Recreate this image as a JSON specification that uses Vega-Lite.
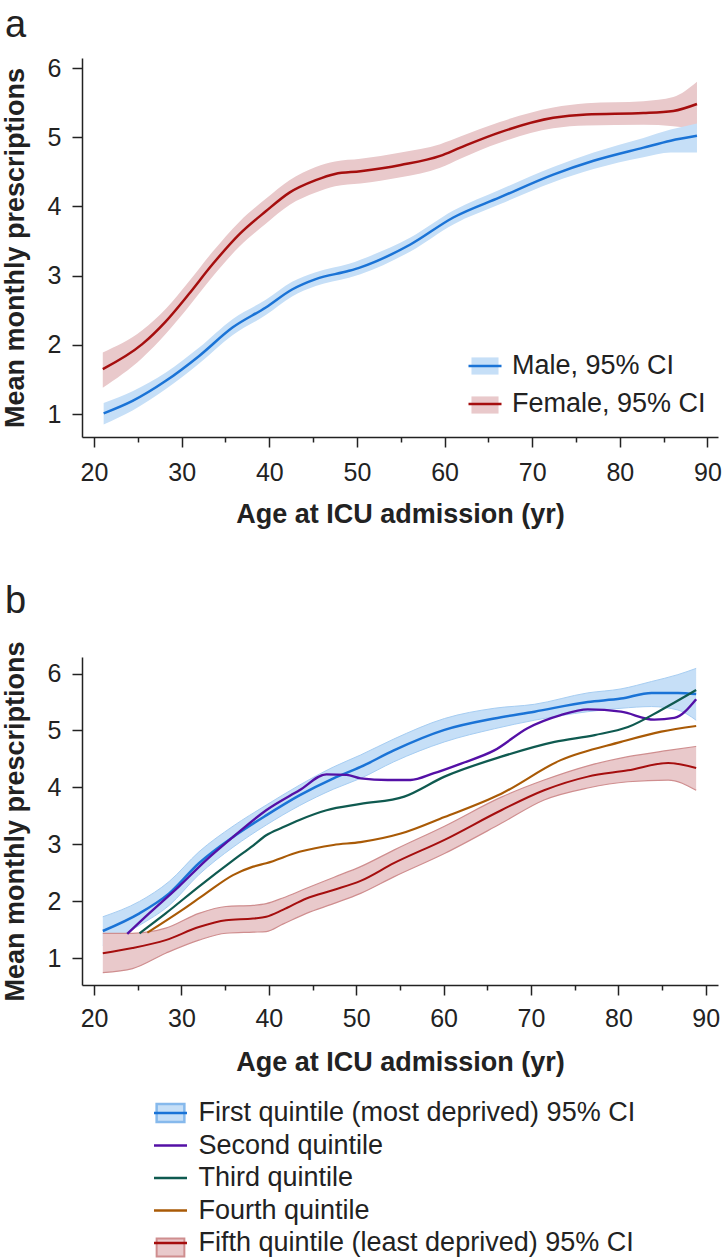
{
  "$schema": "https://vega.github.io/schema/vega-lite/v6.json",
  "background": "white",
  "padding": {"left": 1, "top": 7, "right": 0, "bottom": 0},
  "spacing": 55,
  "resolve": {
    "scale": {"fill": "independent", "stroke": "independent", "strokeWidth": "independent", "x": "independent", "y": "independent"},
    "legend": {"fill": "independent", "stroke": "independent"}
  },
  "config": {
    "font": "Liberation Sans",
    "view": {"stroke": null},
    "axis": {
      "grid": false,
      "domainColor": "#222",
      "domainWidth": 1.5,
      "tickColor": "#222",
      "tickWidth": 1.5,
      "labelColor": "#222",
      "labelFontSize": 25,
      "titleColor": "#222",
      "titleFontSize": 27,
      "titleFontWeight": "bold"
    },
    "legend": {
      "labelColor": "#222",
      "labelFontSize": 27,
      "labelLimit": 700,
      "padding": 0
    },
    "title": {
      "fontSize": 38,
      "fontWeight": "normal",
      "color": "#222",
      "anchor": "start",
      "frame": "group",
      "baseline": "alphabetic"
    }
  },
  "datasets": {
    "a": [
      {"group": "Female, 95% CI", "age": 21.0, "value": 1.65, "lo": 1.38, "hi": 1.89},
      {"group": "Female, 95% CI", "age": 25.5, "value": 2.01, "lo": 1.81, "hi": 2.21},
      {"group": "Female, 95% CI", "age": 28.2, "value": 2.34, "lo": 2.16, "hi": 2.52},
      {"group": "Female, 95% CI", "age": 30.8, "value": 2.73, "lo": 2.55, "hi": 2.91},
      {"group": "Female, 95% CI", "age": 33.5, "value": 3.16, "lo": 2.98, "hi": 3.34},
      {"group": "Female, 95% CI", "age": 36.6, "value": 3.6, "lo": 3.42, "hi": 3.78},
      {"group": "Female, 95% CI", "age": 39.6, "value": 3.93, "lo": 3.75, "hi": 4.11},
      {"group": "Female, 95% CI", "age": 42.3, "value": 4.2, "lo": 4.02, "hi": 4.38},
      {"group": "Female, 95% CI", "age": 45.3, "value": 4.38, "lo": 4.2, "hi": 4.57},
      {"group": "Female, 95% CI", "age": 47.5, "value": 4.47, "lo": 4.29, "hi": 4.65},
      {"group": "Female, 95% CI", "age": 50.4, "value": 4.51, "lo": 4.33, "hi": 4.69},
      {"group": "Female, 95% CI", "age": 55.0, "value": 4.6, "lo": 4.42, "hi": 4.78},
      {"group": "Female, 95% CI", "age": 59.5, "value": 4.73, "lo": 4.56, "hi": 4.9},
      {"group": "Female, 95% CI", "age": 61.8, "value": 4.85, "lo": 4.69, "hi": 5.01},
      {"group": "Female, 95% CI", "age": 66.3, "value": 5.07, "lo": 4.92, "hi": 5.22},
      {"group": "Female, 95% CI", "age": 72.4, "value": 5.28, "lo": 5.13, "hi": 5.43},
      {"group": "Female, 95% CI", "age": 76.2, "value": 5.33, "lo": 5.17, "hi": 5.49},
      {"group": "Female, 95% CI", "age": 82.7, "value": 5.35, "lo": 5.18, "hi": 5.52},
      {"group": "Female, 95% CI", "age": 86.1, "value": 5.38, "lo": 5.16, "hi": 5.58},
      {"group": "Female, 95% CI", "age": 88.8, "value": 5.48, "lo": 5.12, "hi": 5.8},
      {"group": "Male, 95% CI", "age": 21.1, "value": 1.01, "lo": 0.85, "hi": 1.16},
      {"group": "Male, 95% CI", "age": 24.4, "value": 1.19, "lo": 1.05, "hi": 1.33},
      {"group": "Male, 95% CI", "age": 28.2, "value": 1.48, "lo": 1.36, "hi": 1.6},
      {"group": "Male, 95% CI", "age": 32.0, "value": 1.84, "lo": 1.73, "hi": 1.96},
      {"group": "Male, 95% CI", "age": 35.8, "value": 2.25, "lo": 2.14, "hi": 2.37},
      {"group": "Male, 95% CI", "age": 39.6, "value": 2.54, "lo": 2.43, "hi": 2.65},
      {"group": "Male, 95% CI", "age": 42.6, "value": 2.8, "lo": 2.7, "hi": 2.91},
      {"group": "Male, 95% CI", "age": 45.3, "value": 2.95, "lo": 2.85, "hi": 3.05},
      {"group": "Male, 95% CI", "age": 49.1, "value": 3.07, "lo": 2.97, "hi": 3.17},
      {"group": "Male, 95% CI", "age": 50.4, "value": 3.12, "lo": 3.02, "hi": 3.23},
      {"group": "Male, 95% CI", "age": 56.1, "value": 3.45, "lo": 3.35, "hi": 3.55},
      {"group": "Male, 95% CI", "age": 61.0, "value": 3.84, "lo": 3.74, "hi": 3.94},
      {"group": "Male, 95% CI", "age": 66.3, "value": 4.13, "lo": 4.03, "hi": 4.24},
      {"group": "Male, 95% CI", "age": 72.4, "value": 4.46, "lo": 4.35, "hi": 4.57},
      {"group": "Male, 95% CI", "age": 77.0, "value": 4.66, "lo": 4.54, "hi": 4.78},
      {"group": "Male, 95% CI", "age": 82.7, "value": 4.85, "lo": 4.71, "hi": 4.99},
      {"group": "Male, 95% CI", "age": 85.8, "value": 4.95, "lo": 4.78, "hi": 5.11},
      {"group": "Male, 95% CI", "age": 88.8, "value": 5.02, "lo": 4.78, "hi": 5.2}
    ],
    "b": [
      {"group": "First quintile (most deprived) 95% CI", "age": 21.0, "value": 1.48, "lo": 1.23, "hi": 1.73},
      {"group": "First quintile (most deprived) 95% CI", "age": 25.2, "value": 1.79, "lo": 1.58, "hi": 2.0},
      {"group": "First quintile (most deprived) 95% CI", "age": 28.6, "value": 2.14, "lo": 1.93, "hi": 2.35},
      {"group": "First quintile (most deprived) 95% CI", "age": 32.0, "value": 2.67, "lo": 2.47, "hi": 2.87},
      {"group": "First quintile (most deprived) 95% CI", "age": 35.9, "value": 3.13, "lo": 2.95, "hi": 3.32},
      {"group": "First quintile (most deprived) 95% CI", "age": 39.7, "value": 3.51, "lo": 3.34, "hi": 3.69},
      {"group": "First quintile (most deprived) 95% CI", "age": 43.5, "value": 3.86, "lo": 3.68, "hi": 4.04},
      {"group": "First quintile (most deprived) 95% CI", "age": 47.4, "value": 4.16, "lo": 3.97, "hi": 4.36},
      {"group": "First quintile (most deprived) 95% CI", "age": 50.5, "value": 4.36, "lo": 4.16, "hi": 4.57},
      {"group": "First quintile (most deprived) 95% CI", "age": 54.3, "value": 4.65, "lo": 4.45, "hi": 4.85},
      {"group": "First quintile (most deprived) 95% CI", "age": 60.1, "value": 5.01, "lo": 4.8, "hi": 5.21},
      {"group": "First quintile (most deprived) 95% CI", "age": 65.8, "value": 5.21, "lo": 5.03, "hi": 5.39},
      {"group": "First quintile (most deprived) 95% CI", "age": 70.4, "value": 5.33, "lo": 5.18, "hi": 5.46},
      {"group": "First quintile (most deprived) 95% CI", "age": 76.5, "value": 5.5, "lo": 5.33, "hi": 5.66},
      {"group": "First quintile (most deprived) 95% CI", "age": 80.3, "value": 5.56, "lo": 5.39, "hi": 5.73},
      {"group": "First quintile (most deprived) 95% CI", "age": 83.8, "value": 5.66, "lo": 5.42, "hi": 5.86},
      {"group": "First quintile (most deprived) 95% CI", "age": 86.8, "value": 5.66, "lo": 5.36, "hi": 5.98},
      {"group": "First quintile (most deprived) 95% CI", "age": 88.9, "value": 5.64, "lo": 5.18, "hi": 6.09},
      {"group": "Second quintile", "age": 23.8, "value": 1.43},
      {"group": "Second quintile", "age": 26.3, "value": 1.79},
      {"group": "Second quintile", "age": 29.7, "value": 2.26},
      {"group": "Second quintile", "age": 32.8, "value": 2.72},
      {"group": "Second quintile", "age": 35.9, "value": 3.13},
      {"group": "Second quintile", "age": 39.7, "value": 3.6},
      {"group": "Second quintile", "age": 43.5, "value": 3.95},
      {"group": "Second quintile", "age": 46.6, "value": 4.23},
      {"group": "Second quintile", "age": 48.9, "value": 4.22},
      {"group": "Second quintile", "age": 50.5, "value": 4.16},
      {"group": "Second quintile", "age": 53.6, "value": 4.13},
      {"group": "Second quintile", "age": 56.2, "value": 4.13},
      {"group": "Second quintile", "age": 58.9, "value": 4.25},
      {"group": "Second quintile", "age": 62.0, "value": 4.42},
      {"group": "Second quintile", "age": 65.8, "value": 4.65},
      {"group": "Second quintile", "age": 69.6, "value": 5.04},
      {"group": "Second quintile", "age": 73.4, "value": 5.27},
      {"group": "Second quintile", "age": 76.5, "value": 5.37},
      {"group": "Second quintile", "age": 80.3, "value": 5.33},
      {"group": "Second quintile", "age": 84.1, "value": 5.19},
      {"group": "Second quintile", "age": 86.4, "value": 5.22},
      {"group": "Second quintile", "age": 88.9, "value": 5.55},
      {"group": "Third quintile", "age": 25.2, "value": 1.44},
      {"group": "Third quintile", "age": 28.2, "value": 1.79},
      {"group": "Third quintile", "age": 32.0, "value": 2.26},
      {"group": "Third quintile", "age": 35.9, "value": 2.72},
      {"group": "Third quintile", "age": 38.2, "value": 2.98},
      {"group": "Third quintile", "age": 39.7, "value": 3.16},
      {"group": "Third quintile", "age": 41.6, "value": 3.3},
      {"group": "Third quintile", "age": 43.5, "value": 3.43},
      {"group": "Third quintile", "age": 46.6, "value": 3.6},
      {"group": "Third quintile", "age": 50.5, "value": 3.71},
      {"group": "Third quintile", "age": 55.5, "value": 3.84},
      {"group": "Third quintile", "age": 60.1, "value": 4.19},
      {"group": "Third quintile", "age": 66.6, "value": 4.54},
      {"group": "Third quintile", "age": 72.7, "value": 4.8},
      {"group": "Third quintile", "age": 77.3, "value": 4.92},
      {"group": "Third quintile", "age": 81.1, "value": 5.06},
      {"group": "Third quintile", "age": 84.9, "value": 5.36},
      {"group": "Third quintile", "age": 88.9, "value": 5.71},
      {"group": "Fourth quintile", "age": 26.1, "value": 1.45},
      {"group": "Fourth quintile", "age": 30.1, "value": 1.85},
      {"group": "Fourth quintile", "age": 32.8, "value": 2.14},
      {"group": "Fourth quintile", "age": 35.9, "value": 2.46},
      {"group": "Fourth quintile", "age": 38.2, "value": 2.61},
      {"group": "Fourth quintile", "age": 39.7, "value": 2.67},
      {"group": "Fourth quintile", "age": 43.5, "value": 2.87},
      {"group": "Fourth quintile", "age": 47.4, "value": 2.99},
      {"group": "Fourth quintile", "age": 50.5, "value": 3.04},
      {"group": "Fourth quintile", "age": 55.1, "value": 3.19},
      {"group": "Fourth quintile", "age": 60.1, "value": 3.48},
      {"group": "Fourth quintile", "age": 66.6, "value": 3.89},
      {"group": "Fourth quintile", "age": 73.4, "value": 4.48},
      {"group": "Fourth quintile", "age": 80.3, "value": 4.8},
      {"group": "Fourth quintile", "age": 84.9, "value": 4.98},
      {"group": "Fourth quintile", "age": 88.9, "value": 5.08},
      {"group": "Fifth quintile (least deprived) 95% CI", "age": 21.0, "value": 1.09, "lo": 0.75, "hi": 1.44},
      {"group": "Fifth quintile (least deprived) 95% CI", "age": 24.4, "value": 1.18, "lo": 0.82, "hi": 1.44},
      {"group": "Fifth quintile (least deprived) 95% CI", "age": 28.2, "value": 1.32, "lo": 1.09, "hi": 1.53},
      {"group": "Fifth quintile (least deprived) 95% CI", "age": 32.0, "value": 1.55, "lo": 1.32, "hi": 1.79},
      {"group": "Fifth quintile (least deprived) 95% CI", "age": 35.1, "value": 1.67, "lo": 1.44, "hi": 1.91},
      {"group": "Fifth quintile (least deprived) 95% CI", "age": 38.2, "value": 1.7, "lo": 1.46, "hi": 1.93},
      {"group": "Fifth quintile (least deprived) 95% CI", "age": 39.7, "value": 1.73, "lo": 1.47, "hi": 1.96},
      {"group": "Fifth quintile (least deprived) 95% CI", "age": 41.6, "value": 1.85, "lo": 1.6, "hi": 2.06},
      {"group": "Fifth quintile (least deprived) 95% CI", "age": 44.3, "value": 2.05, "lo": 1.79, "hi": 2.23},
      {"group": "Fifth quintile (least deprived) 95% CI", "age": 47.4, "value": 2.2, "lo": 1.96, "hi": 2.42},
      {"group": "Fifth quintile (least deprived) 95% CI", "age": 50.5, "value": 2.36, "lo": 2.14, "hi": 2.61},
      {"group": "Fifth quintile (least deprived) 95% CI", "age": 54.3, "value": 2.67, "lo": 2.43, "hi": 2.9},
      {"group": "Fifth quintile (least deprived) 95% CI", "age": 60.1, "value": 3.08, "lo": 2.84, "hi": 3.32},
      {"group": "Fifth quintile (least deprived) 95% CI", "age": 66.6, "value": 3.6, "lo": 3.37, "hi": 3.83},
      {"group": "Fifth quintile (least deprived) 95% CI", "age": 71.5, "value": 3.95, "lo": 3.78, "hi": 4.13},
      {"group": "Fifth quintile (least deprived) 95% CI", "age": 76.5, "value": 4.19, "lo": 3.99, "hi": 4.38},
      {"group": "Fifth quintile (least deprived) 95% CI", "age": 81.1, "value": 4.3, "lo": 4.1, "hi": 4.54},
      {"group": "Fifth quintile (least deprived) 95% CI", "age": 85.7, "value": 4.43, "lo": 4.13, "hi": 4.65},
      {"group": "Fifth quintile (least deprived) 95% CI", "age": 88.9, "value": 4.34, "lo": 3.95, "hi": 4.72}
    ]
  },
  "vconcat": [
    {
      "width": 636,
      "height": 379,
      "title": {"text": "a", "dx": -77, "offset": 11},
      "data": {"name": "a"},
      "encoding": {
        "x": {
          "field": "age",
          "type": "quantitative",
          "scale": {"domain": [18.63, 91.2], "nice": false, "zero": false},
          "axis": {
            "title": "Age at ICU admission (yr)",
            "values": [20, 25, 30, 35, 40, 45, 50, 55, 60, 65, 70, 75, 80, 85, 90],
            "labelExpr": "datum.value % 10 === 0 ? datum.label : ''",
            "tickSize": {"condition": {"test": "datum.value % 10 === 0", "value": 10}, "value": 5},
            "labelPadding": 13,
            "titlePadding": 16
          }
        },
        "y": {
          "field": "hi",
          "type": "quantitative",
          "scale": {"domain": [0.668, 6.145], "nice": false, "zero": false},
          "axis": {
            "title": "Mean monthly prescriptions",
            "values": [1, 2, 3, 4, 5, 6],
            "tickSize": 10,
            "labelPadding": 11,
            "titlePadding": 18
          }
        }
      },
      "layer": [
        {
          "mark": {"type": "area", "interpolate": "monotone", "opacity": 1},
          "encoding": {
            "y2": {"field": "lo"},
            "fill": {
              "field": "group",
              "type": "nominal",
              "scale": {"domain": ["Male, 95% CI", "Female, 95% CI"], "range": ["#c6dff7", "#e9c9cb"]},
              "legend": {
                "orient": "none",
                "legendX": 385,
                "legendY": 290,
                "title": null,
                "symbolType": "M-0.82,-0.52H0.82V0.52H-0.82Z",
                "symbolSize": 1089,
                "symbolStrokeWidth": 2.5,
                "symbolStrokeColor": "transparent",
                "symbolOpacity": 1,
                "labelOffset": 9,
                "labelExpr": "' '",
                "rowPadding": 7
              }
            }
          }
        },
        {
          "mark": {"type": "line", "interpolate": "monotone", "strokeWidth": 2.5},
          "encoding": {
            "y": {"field": "value", "type": "quantitative"},
            "stroke": {
              "field": "group",
              "type": "nominal",
              "sort": ["Male, 95% CI", "Female, 95% CI"],
              "scale": {"range": ["#1a73d6", "#a50e0e"]},
              "legend": {
                "orient": "none",
                "legendX": 385,
                "legendY": 290,
                "title": null,
                "symbolType": "stroke",
                "symbolSize": 1089,
                "symbolStrokeWidth": 2.5,
                "labelOffset": 9,
                "rowPadding": 7
              }
            }
          }
        }
      ]
    },
    {
      "width": 636,
      "height": 328,
      "title": {"text": "b", "dx": -77, "offset": 20},
      "data": {"name": "b"},
      "encoding": {
        "x": {
          "field": "age",
          "type": "quantitative",
          "scale": {"domain": [18.62, 91.4], "nice": false, "zero": false},
          "axis": {
            "title": "Age at ICU admission (yr)",
            "values": [20, 25, 30, 35, 40, 45, 50, 55, 60, 65, 70, 75, 80, 85, 90],
            "labelExpr": "datum.value % 10 === 0 ? datum.label : ''",
            "tickSize": {"condition": {"test": "datum.value % 10 === 0", "value": 10}, "value": 5},
            "labelPadding": 11,
            "titlePadding": 18
          }
        },
        "y": {
          "field": "hi",
          "type": "quantitative",
          "scale": {"domain": [0.532, 6.29], "nice": false, "zero": false},
          "axis": {
            "title": "Mean monthly prescriptions",
            "values": [1, 2, 3, 4, 5, 6],
            "tickSize": 10,
            "labelPadding": 11,
            "titlePadding": 18
          }
        }
      },
      "layer": [
        {
          "transform": [{"filter": "datum.group === 'First quintile (most deprived) 95% CI'"}],
          "mark": {"type": "area", "interpolate": "monotone", "opacity": 1},
          "encoding": {
            "y2": {"field": "lo"},
            "fill": {
              "field": "group",
              "type": "nominal",
              "scale": {
                "domain": ["First quintile (most deprived) 95% CI", "Second quintile", "Third quintile", "Fourth quintile", "Fifth quintile (least deprived) 95% CI"],
                "range": ["#c6dff7", "transparent", "transparent", "transparent", "#e9c9cb"]
              },
              "legend": {
                "orient": "none",
                "legendX": 70.5,
                "legendY": 438,
                "title": null,
                "symbolType": "M-0.84,-0.55H0.84V0.55H-0.84Z",
                "symbolSize": 1089,
                "symbolStrokeWidth": 2.5,
                "symbolOpacity": 1,
                "labelOffset": 10,
                "labelExpr": "' '",
                "rowPadding": 1.5,
                "encode": {
                  "symbols": {
                    "update": {
                      "stroke": {"signal": "datum.value === 'First quintile (most deprived) 95% CI' ? '#86b9ec' : datum.value === 'Fifth quintile (least deprived) 95% CI' ? '#cf8e8f' : 'transparent'"},
                      "strokeWidth": {"value": 1.5}
                    }
                  }
                }
              }
            }
          }
        },
        {
          "transform": [
            {"filter": "datum.group === 'First quintile (most deprived) 95% CI'"},
            {"fold": ["hi", "lo"], "as": ["edge", "bound"]}
          ],
          "mark": {"type": "line", "interpolate": "monotone", "stroke": "#a6cdf2", "strokeWidth": 1},
          "encoding": {
            "y": {"field": "bound", "type": "quantitative"},
            "detail": {"field": "edge", "type": "nominal"}
          }
        },
        {
          "transform": [{"filter": "datum.group === 'Fifth quintile (least deprived) 95% CI'"}],
          "mark": {"type": "area", "interpolate": "monotone", "opacity": 1},
          "encoding": {
            "y2": {"field": "lo"},
            "fill": {
              "field": "group",
              "type": "nominal",
              "scale": {
                "domain": ["First quintile (most deprived) 95% CI", "Second quintile", "Third quintile", "Fourth quintile", "Fifth quintile (least deprived) 95% CI"],
                "range": ["#c6dff7", "transparent", "transparent", "transparent", "#e9c9cb"]
              }
            }
          }
        },
        {
          "transform": [
            {"filter": "datum.group === 'Fifth quintile (least deprived) 95% CI'"},
            {"fold": ["hi", "lo"], "as": ["edge", "bound"]}
          ],
          "mark": {"type": "line", "interpolate": "monotone", "stroke": "#cf8e8f", "strokeWidth": 1.2},
          "encoding": {
            "y": {"field": "bound", "type": "quantitative"},
            "detail": {"field": "edge", "type": "nominal"}
          }
        },
        {
          "mark": {"type": "line", "interpolate": "monotone"},
          "encoding": {
            "y": {"field": "value", "type": "quantitative"},
            "strokeWidth": {
              "field": "group",
              "type": "ordinal",
              "scale": {
                "domain": ["First quintile (most deprived) 95% CI", "Second quintile", "Third quintile", "Fourth quintile", "Fifth quintile (least deprived) 95% CI"],
                "range": [2.5, 2, 2, 2, 2.5]
              },
              "legend": null
            },
            "stroke": {
              "field": "group",
              "type": "nominal",
              "sort": ["First quintile (most deprived) 95% CI", "Second quintile", "Third quintile", "Fourth quintile", "Fifth quintile (least deprived) 95% CI"],
              "scale": {"range": ["#1a73d6", "#5410a6", "#0f5a50", "#a95a06", "#a50e0e"]},
              "legend": {
                "orient": "none",
                "legendX": 70.5,
                "legendY": 438,
                "title": null,
                "symbolType": "stroke",
                "symbolSize": 1089,
                "symbolStrokeWidth": 2.5,
                "labelOffset": 10,
                "rowPadding": 1.5
              }
            }
          }
        }
      ]
    }
  ]
}
